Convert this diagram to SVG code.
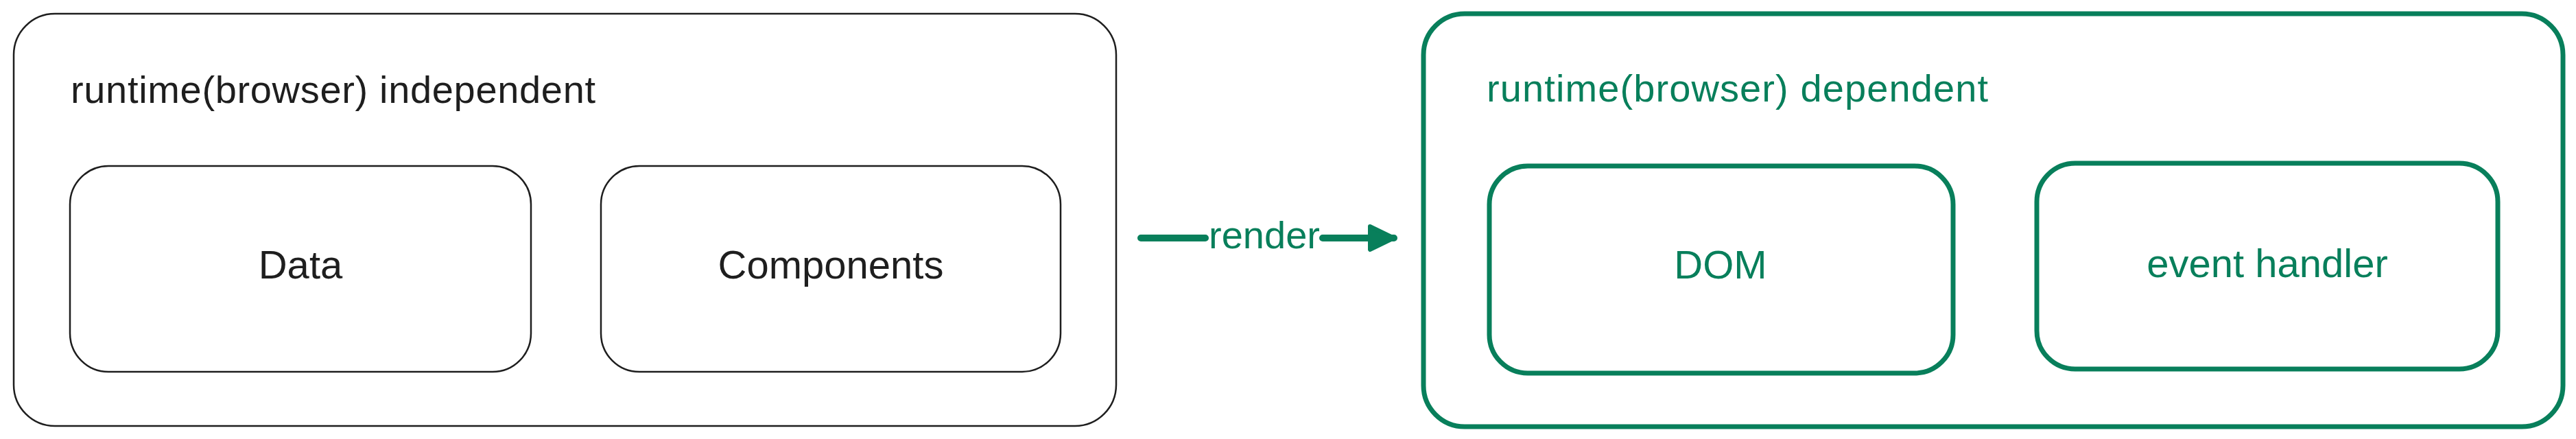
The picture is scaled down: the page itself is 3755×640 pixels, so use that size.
<svg xmlns="http://www.w3.org/2000/svg" width="3755" height="640" viewBox="0 0 3755 640">
<defs>
<style>
.bk{fill:none;stroke:#1e1e1e;stroke-width:2.5}
.gr{fill:none;stroke:#087f5b;stroke-width:7}
.t{font-family:"Liberation Sans",Arial,sans-serif;font-size:56px}
.n{font-size:58px}
.tb{fill:#1e1e1e}
.tg{fill:#087f5b}
.c{text-anchor:middle}
</style>
<marker id="ah" markerUnits="userSpaceOnUse" markerWidth="50" markerHeight="50" viewBox="0 0 50 50" refX="42" refY="25" orient="auto">
<path d="M7 8 L42 25 L7 42 Z" fill="#087f5b" stroke="#087f5b" stroke-width="6" stroke-linejoin="round"/>
</marker>
</defs>
<rect width="3755" height="640" fill="#ffffff"/>
<g id="independent">
<rect class="bk" x="20" y="20" width="1607" height="601" rx="60"/>
<text class="t tb" x="103" y="150" textLength="765">runtime(browser) independent</text>
</g>
<g id="data">
<rect class="bk" x="102" y="242" width="672" height="300" rx="56"/>
<text class="t n tb c" x="438" y="406">Data</text>
</g>
<g id="components">
<rect class="bk" x="876" y="242" width="670" height="300" rx="56"/>
<text class="t n tb c" x="1211" y="406">Components</text>
</g>
<g id="dependent">
<rect class="gr" x="2075" y="20" width="1661" height="602" rx="60"/>
<text class="t tg" x="2167" y="148" textLength="731">runtime(browser) dependent</text>
</g>
<g id="dom">
<rect class="gr" x="2171" y="242" width="676" height="302" rx="56"/>
<text class="t n tg c" x="2508" y="406">DOM</text>
</g>
<g id="event-handler">
<rect class="gr" x="2969" y="238" width="672" height="300" rx="56"/>
<text class="t n tg c" x="3305" y="404">event handler</text>
</g>
<g id="connectors">
<path d="M1663 347 H1757 M1928 347 H2032" fill="none" stroke="#087f5b" stroke-width="10" stroke-linecap="round" marker-end="url(#ah)"/>
<text class="t tg c" x="1843" y="362">render</text>
</g>
</svg>
